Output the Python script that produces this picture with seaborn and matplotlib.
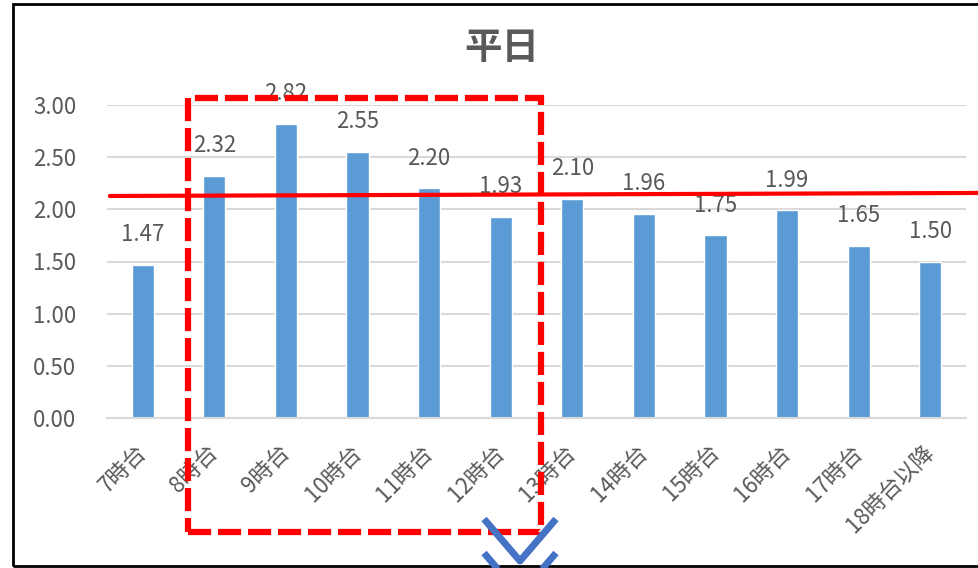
import matplotlib
matplotlib.use("Agg")
import matplotlib.pyplot as plt
from matplotlib.patches import Rectangle
from matplotlib.lines import Line2D
import seaborn as sns
import pandas as pd

# data
hours = ['7時台', '8時台', '9時台', '10時台', '11時台', '12時台', '13時台',
         '14時台', '15時台', '16時台', '17時台', '18時台以降']
values = [1.47, 2.32, 2.82, 2.55, 2.20, 1.93, 2.10, 1.96, 1.75, 1.99, 1.65, 1.50]
avg_line = [2.128, 2.157]

df = pd.DataFrame({'hour': hours, 'value': values})

sns.set_theme(style='white')
plt.rcParams['font.family'] = ['Noto Sans CJK JP', 'DejaVu Sans']

gray = '#595959'

fig = plt.figure(figsize=(9.79, 5.68), dpi=100)
ax = fig.add_axes([107/979, 1-418/568, (966-107)/979, (418-105)/568])

sns.barplot(data=df, x='hour', y='value', color='#5B9BD5', width=0.31,
            saturation=1, ax=ax)

ax.set_ylim(0, 3)
ax.set_xlim(-0.5, len(hours)-0.5)
ax.set_yticks([0, 0.5, 1, 1.5, 2, 2.5, 3])
ax.set_yticklabels([f'{v:.2f}' for v in ax.get_yticks()])
ax.grid(axis='y', color='#d9d9d9', lw=1.5)
ax.set_axisbelow(True)
for s in ['top', 'right', 'left']:
    ax.spines[s].set_visible(False)
ax.spines['bottom'].set_color('#d9d9d9')
ax.spines['bottom'].set_linewidth(1.5)
ax.set_xlabel('')
ax.set_ylabel('')
ax.tick_params(axis='y', length=0, pad=22, labelsize=16, labelcolor=gray)
ax.tick_params(axis='x', length=0, pad=22, labelsize=16, labelcolor=gray)
for lab in ax.get_xticklabels():
    lab.set_rotation(45)
    lab.set_ha('right')
    lab.set_va('center')
    lab.set_rotation_mode('anchor')

# value labels above bars
for i, v in enumerate(values):
    ax.text(i, v + 0.29, f'{v:.2f}', ha='center', va='center', fontsize=16,
            color=gray)

fig.text(502/979, 1-47/568, '平日', ha='center', va='center', fontsize=27,
         fontweight='bold', color=gray)

# red average line across the chart
ax.plot([-0.46, 11.7], avg_line, color='#FF0000', lw=3, clip_on=False,
        zorder=5)

# dashed highlight box
box = Rectangle((0.633, -1.093), 5.556-0.633, 3.067+1.093, fill=False,
                edgecolor='#FF0000', lw=4.5, ls=(0, (3.7, 1.1)), clip_on=False,
                zorder=6)
ax.add_patch(box)

# blue chevrons below the box
def fx(x):
    return x / 979

def fy(y):
    return 1 - y / 568

for y0 in [519, 553]:
    fig.add_artist(Line2D([fx(484), fx(520), fx(556)],
                          [fy(y0), fy(y0+42), fy(y0)],
                          color='#4472C4', lw=5, solid_capstyle='butt'))

# black frame
fig.add_artist(Rectangle((fx(13), fy(566)), 1.2, fy(4)-fy(566),
                         transform=fig.transFigure, fill=False,
                         edgecolor='black', lw=2))

fig.savefig('out.png', dpi=100)
